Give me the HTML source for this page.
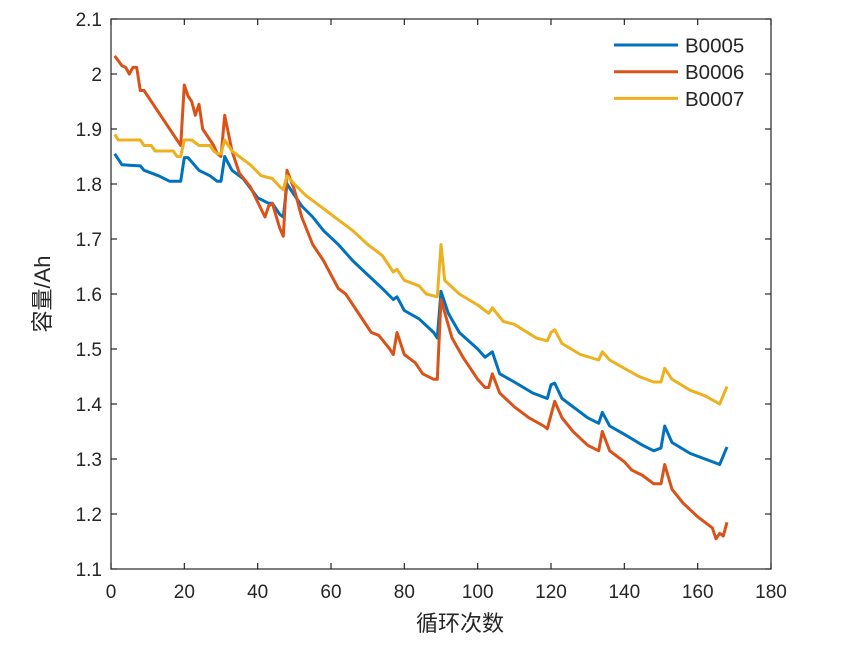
<!DOCTYPE html>
<html><head><meta charset="utf-8"><style>
html,body{margin:0;padding:0;background:#fff;}
svg text{font-family:"Liberation Sans","Noto Sans CJK SC",sans-serif;fill:#262626;}
</style></head><body>
<svg id="chart" width="855" height="642" viewBox="0 0 855 642" xmlns="http://www.w3.org/2000/svg">
<g id="grid"></g>
<g id="series"></g>
<g id="axes"></g>
<g id="legend"></g>
</svg>
<script>
const xTicks=[0,20,40,60,80,100,120,140,160,180];
const yTicks=[1.1,1.2,1.3,1.4,1.5,1.6,1.7,1.8,1.9,2.0,2.1];
const yTickLabels=["1.1","1.2","1.3","1.4","1.5","1.6","1.7","1.8","1.9","2","2.1"];
const seriesNames=["B0005","B0006","B0007"];
const seriesColors=["#0072BD","#D95319","#EDB120"];
const b5Cycles=[1,3,8,9,13,16,19,20,21,24,27,29,30,31,33,36,40,43,44,46,47,48,50,52,55,58,62,66,70,74,77,78,80,84,88,89,90,92,95,100,102,104,106,110,115,119,120,121,123,130,133,134,136,140,145,148,150,151,153,158,162,166,168];
const b5Values=[1.855,1.835,1.833,1.825,1.815,1.805,1.805,1.848,1.848,1.825,1.815,1.805,1.805,1.85,1.825,1.81,1.775,1.765,1.765,1.745,1.74,1.80,1.78,1.76,1.74,1.715,1.69,1.66,1.635,1.61,1.59,1.595,1.57,1.555,1.53,1.52,1.605,1.565,1.53,1.50,1.485,1.495,1.455,1.44,1.42,1.41,1.435,1.438,1.41,1.375,1.365,1.385,1.36,1.345,1.325,1.315,1.32,1.36,1.33,1.31,1.30,1.29,1.322];
const b6Cycles=[1,3,4,5,6,7,8,9,19,20,21,22,23,24,25,28,29,30,31,33,35,38,42,43,44,46,47,48,50,52,55,58,62,64,68,71,73,76,77,78,80,83,85,88,89,90,93,96,100,102,103,104,106,110,114,118,119,121,123,126,130,133,134,136,140,142,145,148,150,151,153,156,160,164,165,166,167,168];
const b6Values=[2.033,2.015,2.012,2.0,2.012,2.012,1.97,1.97,1.87,1.98,1.96,1.95,1.925,1.945,1.90,1.87,1.855,1.85,1.925,1.86,1.82,1.795,1.74,1.76,1.765,1.72,1.705,1.825,1.79,1.74,1.69,1.66,1.61,1.60,1.56,1.53,1.525,1.50,1.49,1.53,1.49,1.475,1.455,1.445,1.445,1.59,1.52,1.485,1.445,1.43,1.43,1.455,1.42,1.395,1.375,1.36,1.355,1.405,1.375,1.35,1.325,1.315,1.35,1.315,1.295,1.28,1.27,1.255,1.255,1.29,1.245,1.22,1.195,1.175,1.155,1.165,1.16,1.185];
const b7Cycles=[1,2,8,9,11,12,17,18,19,20,22,24,27,28,29,30,31,33,36,38,41,44,46,47,48,50,53,56,59,62,66,70,74,77,78,80,84,86,89,90,91,95,100,103,104,107,110,116,119,120,121,123,128,133,134,136,140,144,148,150,151,153,158,162,166,168];
const b7Values=[1.89,1.88,1.88,1.87,1.87,1.86,1.86,1.85,1.85,1.88,1.88,1.87,1.87,1.86,1.855,1.855,1.88,1.86,1.845,1.835,1.815,1.81,1.795,1.79,1.815,1.80,1.78,1.765,1.75,1.735,1.715,1.69,1.67,1.64,1.645,1.625,1.615,1.60,1.595,1.69,1.625,1.60,1.58,1.565,1.575,1.55,1.545,1.52,1.515,1.53,1.535,1.51,1.49,1.48,1.495,1.48,1.465,1.45,1.44,1.44,1.465,1.445,1.425,1.415,1.40,1.432];

const X0=111,X1=771,Y0=569,Y1=19;
const xs=c=>X0+(c-0)/(180-0)*(X1-X0);
const ys=v=>Y0-(v-1.1)/(2.1-1.1)*(Y0-Y1);
const NS="http://www.w3.org/2000/svg";
function mk(tag,attrs,parent){const e=document.createElementNS(NS,tag);for(const k in attrs)e.setAttribute(k,attrs[k]);parent.appendChild(e);return e;}
const axes=document.getElementById('axes');
const box=mk('rect',{x:X0,y:Y1,width:X1-X0,height:Y0-Y1,fill:'none',stroke:'#262626','stroke-width':1.2},axes);


xTicks.forEach(t=>{
  const x=xs(t);
  const l=mk('line',{x1:x,x2:x,y1:Y0,y2:Y0-6,stroke:'#262626','stroke-width':1.2},axes);
  
  
  const l2=mk('line',{x1:x,x2:x,y1:Y1,y2:Y1+6,stroke:'#262626','stroke-width':1.2},axes);
  
  
  const tx=mk('text',{x:x,y:Y0+29,'text-anchor':'middle','font-size':19},axes);
  tx.textContent=String(t);
  
  
});
yTicks.forEach((t,i)=>{
  const y=ys(t);
  const l=mk('line',{x1:X0,x2:X0+6,y1:y,y2:y,stroke:'#262626','stroke-width':1.2},axes);
  
  
  const l2=mk('line',{x1:X1,x2:X1-6,y1:y,y2:y,stroke:'#262626','stroke-width':1.2},axes);
  
  
  const tx=mk('text',{x:X0-9,y:y+7,'text-anchor':'end','font-size':19},axes);
  tx.textContent=yTickLabels[i];
  
  
});
const xt=mk('text',{x:460,y:631,'text-anchor':'middle','font-size':22},axes);
xt.textContent='循环次数';


const yt=mk('text',{x:0,y:0,'text-anchor':'middle','font-size':22,transform:'translate(50,294) rotate(-90)'},axes);
yt.textContent='容量/Ah';



const sg=document.getElementById('series');
const data=[[b5Cycles,b5Values],[b6Cycles,b6Values],[b7Cycles,b7Values]];
data.forEach((d,i)=>{
  const pts=d[0].map((c,j)=>xs(c).toFixed(1)+','+ys(d[1][j]).toFixed(1)).join(' ');
  const p=mk('polyline',{points:pts,fill:'none',stroke:seriesColors[i],'stroke-width':3,'stroke-linejoin':'round'},sg);
  
  
});
const lg=document.getElementById('legend');
seriesNames.forEach((n,i)=>{
  const y=45+i*26.7;
  const l=mk('line',{x1:614,x2:678,y1:y,y2:y,stroke:seriesColors[i],'stroke-width':3},lg);
  
  
  const t=mk('text',{x:685,y:y+7.5,'font-size':20.5},lg);
  t.textContent=n;
  
  
});
</script>
</body></html>
